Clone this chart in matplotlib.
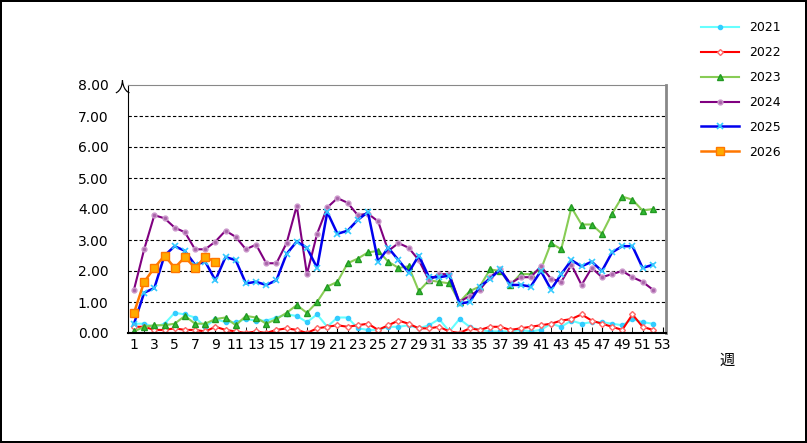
import matplotlib
matplotlib.use("Agg")
import matplotlib.pyplot as plt

plt.rcParams['font.family'] = ['DejaVu Sans', 'Noto Sans CJK JP']

weeks = list(range(1, 53))
s2021 = [0.3,0.3,0.2,0.3,0.65,0.6,0.5,0.2,0.45,0.35,0.35,0.45,0.4,0.4,0.5,0.6,0.55,0.35,0.6,0.2,0.5,0.5,0.15,0.1,0.1,0.2,0.2,0.25,0.15,0.25,0.45,0.05,0.45,0.2,0.1,0.05,0.05,0.05,0.1,0.05,0.1,0.3,0.2,0.4,0.3,0.35,0.35,0.3,0.25,0.45,0.35,0.3]
s2022 = [0.2,0.2,0.1,0.1,0.15,0.1,0.1,0.05,0.2,0.1,0.05,0.0,0.05,0.0,0.1,0.15,0.1,0.0,0.15,0.2,0.25,0.2,0.25,0.3,0.1,0.25,0.4,0.3,0.15,0.15,0.2,0.05,0.0,0.15,0.1,0.2,0.2,0.1,0.15,0.2,0.25,0.3,0.4,0.45,0.6,0.4,0.3,0.2,0.1,0.6,0.2,0.1]
s2023 = [0.05,0.2,0.25,0.25,0.3,0.55,0.3,0.3,0.45,0.5,0.25,0.55,0.5,0.3,0.45,0.65,0.9,0.65,1.0,1.5,1.65,2.25,2.4,2.6,2.65,2.3,2.1,2.15,1.35,1.7,1.65,1.6,1.0,1.35,1.5,2.05,2.0,1.55,1.9,1.9,2.05,2.9,2.7,4.05,3.5,3.5,3.2,3.85,4.4,4.3,3.95,4.0]
s2024 = [1.4,2.7,3.8,3.7,3.4,3.25,2.7,2.7,2.95,3.3,3.1,2.7,2.85,2.25,2.25,2.9,4.1,1.9,3.2,4.05,4.35,4.2,3.8,3.85,3.6,2.65,2.9,2.75,2.35,1.7,1.9,1.9,1.0,1.2,1.4,1.8,2.05,1.6,1.8,1.8,2.15,1.75,1.65,2.2,1.55,2.1,1.8,1.9,2.0,1.8,1.65,1.4]
s2025 = [0.3,1.3,1.45,2.5,2.8,2.65,2.2,2.3,1.7,2.45,2.35,1.6,1.65,1.55,1.7,2.55,2.95,2.75,2.1,3.9,3.2,3.3,3.65,3.9,2.3,2.75,2.35,1.95,2.5,1.8,1.8,1.85,0.95,1.0,1.5,1.75,2.05,1.55,1.55,1.5,2.0,1.4,1.9,2.35,2.15,2.3,2.0,2.6,2.8,2.8,2.1,2.2]
s2026 = [0.65,1.65,2.1,2.5,2.1,2.45,2.1,2.45,2.3]

fig = plt.figure(figsize=(8.07, 4.43), dpi=100)
fig.patch.set_edgecolor('black'); fig.patch.set_linewidth(1.5)
ax = fig.add_axes([128/807, 110/443, 538/807, 248/443])

ax.plot(weeks, s2021, color='#66ffff', marker='o', ms=3, mfc='#33ccff', mec='#33ccff', lw=1.5, label='2021')
ax.plot(weeks, s2022, color='#ff0000', marker='D', ms=3, mfc='white', mec='#ff6666', lw=1.5, label='2022')
ax.plot(weeks, s2023, color='#88cc55', marker='^', ms=4, mfc='#33bb33', mec='#229922', lw=1.5, label='2023')
ax.plot(weeks, s2024, color='#800080', marker='o', ms=3.5, mfc='#aa66aa', mec='#cc99cc', lw=1.5, label='2024')
ax.plot(weeks, s2025, color='#0000ee', marker='x', ms=5, mec='#33ccff', mew=1.2, lw=1.8, label='2025')
ax.plot(weeks[:len(s2026)], s2026, color='#ff7700', marker='s', ms=6, mfc='#ffaa00', mec='#ff7700', lw=1.8, label='2026')

ax.set_xlim(0.41, 53.3)
ax.set_ylim(0, 8)
ax.set_yticks([i for i in range(9)])
ax.set_yticklabels([f"{i:.2f}" for i in range(9)], fontsize=10)
ax.set_xticks(list(range(1, 54, 2)))
ax.set_xticks(list(range(1, 54)), minor=True)
ax.tick_params(axis='x', which='both', direction='in', length=4, labelsize=10)
ax.tick_params(axis='y', direction='out', length=0, labelsize=10, pad=14)
for y in range(1, 8):
    ax.axhline(y, color='black', ls=(0, (3, 2)), lw=0.8, zorder=0)
for s in ['top', 'right']:
    ax.spines[s].set_color('#888888')
ax.spines['right'].set_linewidth(2)
ax.spines['bottom'].set_linewidth(1.5)

fig.text(115/807, 1 - 87/443, '人', fontsize=11, va='center', family=['Noto Sans CJK JP'])
fig.text(720/807, 1 - 360/443, '週', fontsize=11, va='center', family=['Noto Sans CJK JP'])

fig.legend(loc='upper left', bbox_to_anchor=(690/807, 1 - 10/443), frameon=False,
           fontsize=9, handlelength=3, labelspacing=0.95)

fig.savefig('out.png', dpi=100)
